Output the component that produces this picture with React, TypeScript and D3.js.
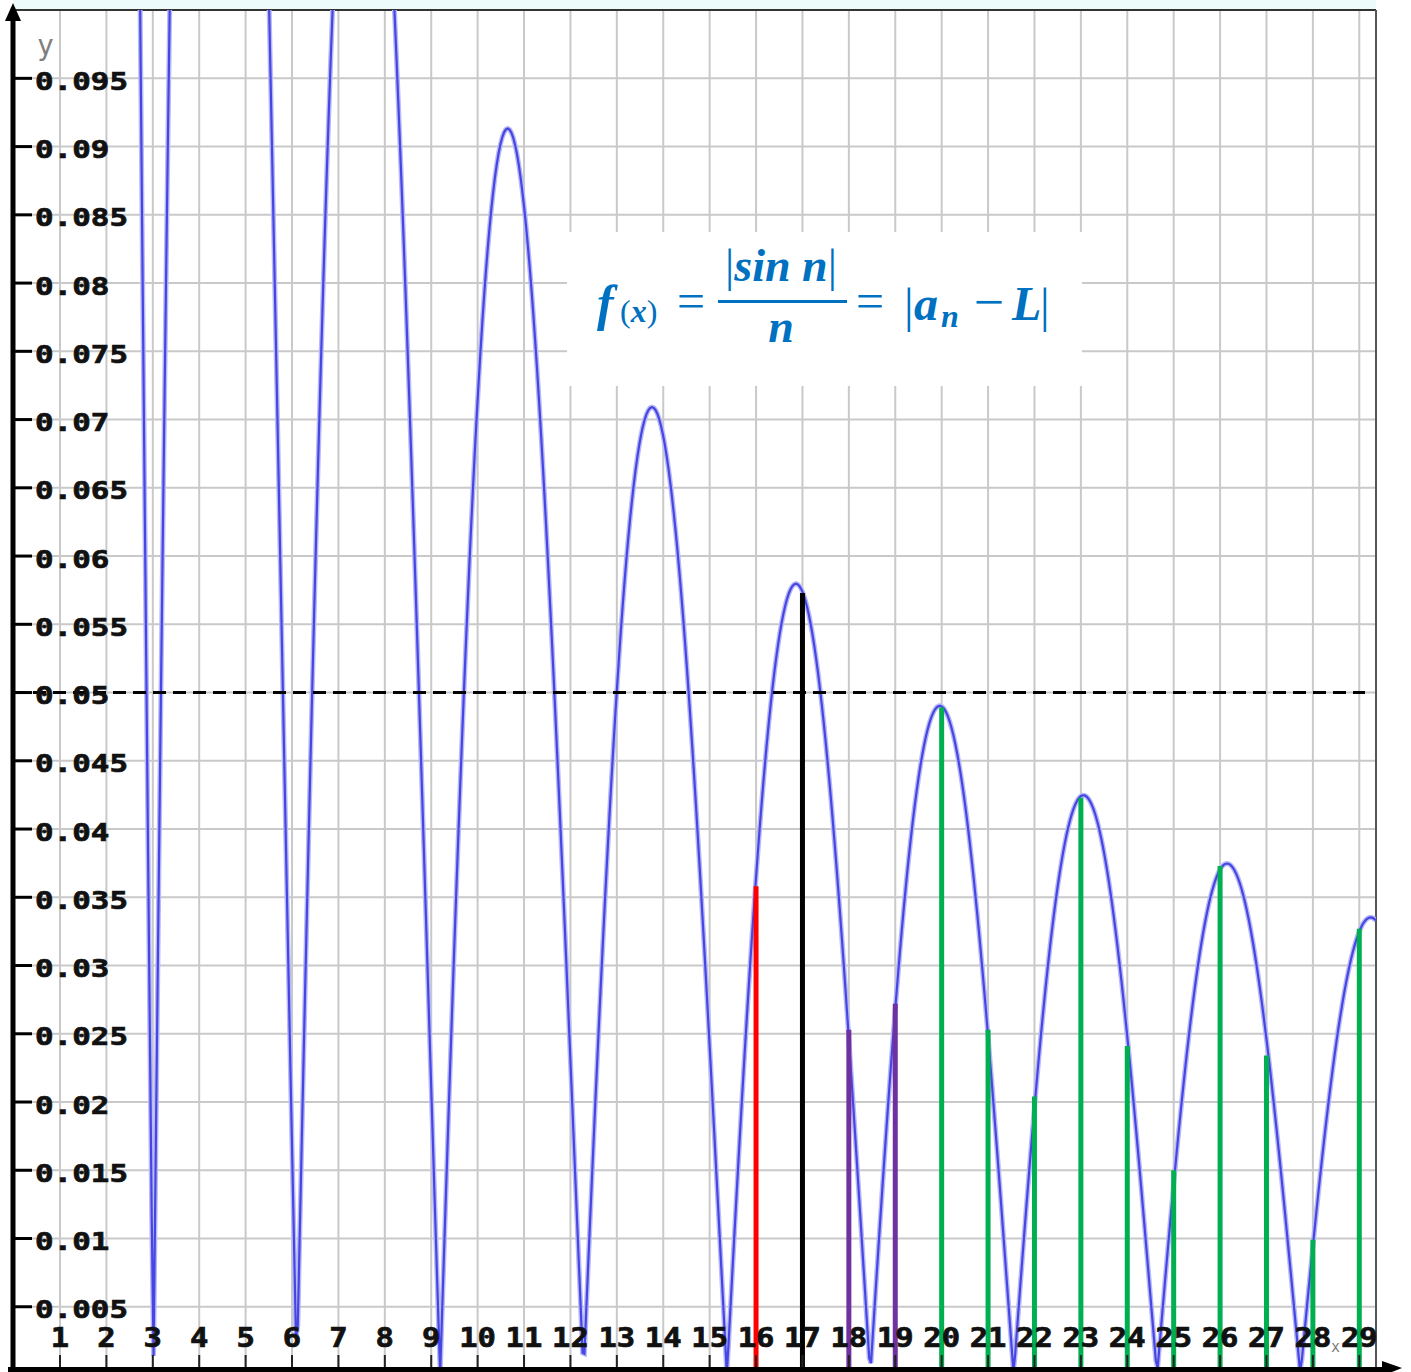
import React, { useEffect, useRef } from 'react';
import * as d3 from 'd3';

// tick values
const xTicks = [1, 2, 3, 4, 5, 6, 7, 8, 9, 10, 11, 12, 13, 14, 15, 16, 17, 18, 19, 20, 21, 22, 23, 24, 25, 26, 27, 28, 29];
const yTicks = [0.005, 0.01, 0.015, 0.02, 0.025, 0.03, 0.035, 0.04, 0.045, 0.05, 0.055, 0.06, 0.065, 0.07, 0.075, 0.08, 0.085, 0.09, 0.095];
const yTickLabels = ['0.005', '0.01', '0.015', '0.02', '0.025', '0.03', '0.035', '0.04', '0.045', '0.05', '0.055', '0.06', '0.065', '0.07', '0.075', '0.08', '0.085', '0.09', '0.095'];

// epsilon band
const epsilon = 0.05;

// vertical stems |a_n - L| at integer n
const stemN = [16, 17, 18, 19, 20, 21, 22, 23, 24, 25, 26, 27, 28, 29];
const stemValue = [0.0358, 0.0573, 0.0253, 0.0272, 0.0489, 0.0253, 0.0204, 0.0423, 0.0241, 0.015, 0.0373, 0.0234, 0.0099, 0.0327];
const stemGroup = ['before', 'N', 'between', 'between', 'after', 'after', 'after', 'after', 'after', 'after', 'after', 'after', 'after', 'after'];

const stemColors: Record<string, string> = {
    before: '#ff0000',
    N: '#000000',
    between: '#7030a0',
    after: '#00b050',
};

const W = 1411;
const H = 1372;

// the curve f(x) = |sin x| / x
const f = (x: number) => Math.abs(Math.sin(x)) / x;

export default function App() {
    const svgRef = useRef<SVGSVGElement | null>(null);

    useEffect(() => {
        const svg = d3.select(svgRef.current);
        svg.selectAll('*').remove();

        const left = 13;
        const right = 1376;
        const bottom = 1368;

        // the original plot labels its ticks on a slightly different scale than the curve
        const xTick = d3.scaleLinear().domain([0, 29.36]).range([13.6, right]);
        const xCurve = d3.scaleLinear().domain([0.066, 29.93]).range([left, right]);
        const y = d3.scaleLinear().domain([0, 0.1]).range([1375, 10.1]);
        const top = y(0.1);

        svg.append('rect').attr('width', W).attr('height', H).attr('fill', '#ffffff');
        svg.append('rect')
            .attr('x', left).attr('y', 0)
            .attr('width', right - left).attr('height', top)
            .attr('fill', '#eefbfb');

        // grid
        const grid = svg.append('g').attr('stroke', '#c9c9c9').attr('stroke-width', 2);
        grid.selectAll('line.v')
            .data(xTicks)
            .join('line')
            .attr('class', 'v')
            .attr('x1', (d) => xTick(d)).attr('x2', (d) => xTick(d))
            .attr('y1', top).attr('y2', bottom);
        grid.selectAll('line.h')
            .data(yTicks)
            .join('line')
            .attr('class', 'h')
            .attr('x1', left).attr('x2', right)
            .attr('y1', (d) => y(d)).attr('y2', (d) => y(d));

        // frame top / right
        svg.append('line')
            .attr('x1', left).attr('x2', right).attr('y1', top).attr('y2', top)
            .attr('stroke', '#333').attr('stroke-width', 2);
        svg.append('line')
            .attr('x1', right).attr('x2', right).attr('y1', top).attr('y2', bottom)
            .attr('stroke', '#555').attr('stroke-width', 2);

        // white formula box
        svg.append('rect')
            .attr('x', 567).attr('y', 232)
            .attr('width', 515).attr('height', 154)
            .attr('fill', '#ffffff');

        // curve
        svg.append('clipPath').attr('id', 'plot-clip')
            .append('rect')
            .attr('x', left).attr('y', top)
            .attr('width', right - left).attr('height', bottom - top);

        const [c0, c1] = xCurve.domain();
        const pts = d3.range(c0, c1, 0.04).concat([c1]);
        const line = d3.line<number>()
            .x((d) => xCurve(d))
            .y((d) => y(f(d)));

        const cg = svg.append('g').attr('clip-path', 'url(#plot-clip)');
        cg.append('path')
            .datum(pts)
            .attr('d', line)
            .attr('fill', 'none')
            .attr('stroke', '#b9b9f5')
            .attr('stroke-width', 5);
        cg.append('path')
            .datum(pts)
            .attr('d', line)
            .attr('fill', 'none')
            .attr('stroke', '#4646e4')
            .attr('stroke-width', 2.2);

        // epsilon dashed line
        svg.append('line')
            .attr('x1', left).attr('x2', 1365)
            .attr('y1', y(epsilon)).attr('y2', y(epsilon))
            .attr('stroke', '#000')
            .attr('stroke-width', 3)
            .attr('stroke-dasharray', '13 7');

        // stems
        svg.append('g')
            .selectAll('line')
            .data(stemN)
            .join('line')
            .attr('x1', (d) => xTick(d)).attr('x2', (d) => xTick(d))
            .attr('y1', bottom)
            .attr('y2', (_, i) => y(stemValue[i]))
            .attr('stroke', (_, i) => stemColors[stemGroup[i]])
            .attr('stroke-width', 5);

        // axis labels
        const mono = "'DejaVu Sans Mono', monospace";
        svg.append('text')
            .attr('x', 37).attr('y', 55)
            .attr('font-family', mono).attr('font-size', 28)
            .attr('fill', '#808080')
            .text('y');
        svg.append('text')
            .attr('x', 1331).attr('y', 1352)
            .attr('font-family', mono).attr('font-size', 15)
            .attr('fill', '#808080')
            .text('x');

        // y ticks + labels
        svg.append('g')
            .selectAll('line')
            .data(yTicks)
            .join('line')
            .attr('x1', left).attr('x2', 32)
            .attr('y1', (d) => y(d)).attr('y2', (d) => y(d))
            .attr('stroke', '#000').attr('stroke-width', 3);
        svg.append('g')
            .selectAll('text')
            .data(yTicks)
            .join('text')
            .attr('x', 35)
            .attr('y', (d) => y(d) + 11.5)
            .attr('font-family', mono).attr('font-weight', 'bold').attr('font-size', 25)
            .attr('fill', '#111')
            .attr('stroke', '#111').attr('stroke-width', 0.7)
            .attr('textLength', (_, i) => yTickLabels[i].length * 18.6)
            .attr('lengthAdjust', 'spacingAndGlyphs')
            .text((_, i) => yTickLabels[i]);

        // x ticks + labels
        svg.append('g')
            .selectAll('line')
            .data(xTicks)
            .join('line')
            .attr('x1', (d) => xTick(d)).attr('x2', (d) => xTick(d))
            .attr('y1', 1355).attr('y2', bottom)
            .attr('stroke', '#222').attr('stroke-width', 2);
        svg.append('g')
            .selectAll('text')
            .data(xTicks)
            .join('text')
            .attr('x', (d) => xTick(d) - String(d).length * 9.2)
            .attr('y', 1347)
            .attr('font-family', mono).attr('font-weight', 'bold').attr('font-size', 26)
            .attr('fill', '#111')
            .attr('stroke', '#111').attr('stroke-width', 0.7)
            .attr('textLength', (d) => String(d).length * 18.4)
            .attr('lengthAdjust', 'spacingAndGlyphs')
            .text((d) => String(d));

        // axes with arrows
        svg.append('line')
            .attr('x1', left).attr('x2', left).attr('y1', H).attr('y2', 16)
            .attr('stroke', '#000').attr('stroke-width', 5);
        svg.append('path')
            .attr('d', `M${left},3 L${left - 8},21 L${left + 8},21 Z`)
            .attr('fill', '#000');
        svg.append('line')
            .attr('x1', 8).attr('x2', 1390).attr('y1', 1369.5).attr('y2', 1369.5)
            .attr('stroke', '#000').attr('stroke-width', 5);
        svg.append('path')
            .attr('d', 'M1382,1361 L1402,1368 L1382,1376 Z')
            .attr('fill', '#000');

        // formula
        const blue = '#0070c0';
        const serif = "'Liberation Serif', 'DejaVu Serif', serif";
        const fm = svg.append('g').attr('fill', blue).attr('font-family', serif);

        fm.append('text')
            .attr('x', 597).attr('y', 320)
            .attr('font-size', 50).attr('font-style', 'italic').attr('font-weight', 'bold')
            .text('f');
        const sub = fm.append('text')
            .attr('x', 620).attr('y', 322)
            .attr('font-size', 32);
        sub.append('tspan').text('(');
        sub.append('tspan').attr('font-style', 'italic').attr('font-weight', 'bold').text('x');
        sub.append('tspan').text(')');

        fm.append('text')
            .attr('x', 691).attr('y', 318)
            .attr('text-anchor', 'middle')
            .attr('font-size', 50)
            .text('=');

        fm.append('line')
            .attr('x1', 718).attr('x2', 847).attr('y1', 301.5).attr('y2', 301.5)
            .attr('stroke', blue).attr('stroke-width', 3);

        const num = fm.append('text')
            .attr('x', 781).attr('y', 281)
            .attr('text-anchor', 'middle')
            .attr('font-size', 46);
        num.append('tspan').text('|');
        num.append('tspan').attr('font-style', 'italic').attr('font-weight', 'bold').text('sin n');
        num.append('tspan').text('|');

        fm.append('text')
            .attr('x', 781).attr('y', 342)
            .attr('text-anchor', 'middle')
            .attr('font-size', 46).attr('font-style', 'italic').attr('font-weight', 'bold')
            .text('n');

        fm.append('text')
            .attr('x', 870).attr('y', 318)
            .attr('text-anchor', 'middle')
            .attr('font-size', 50)
            .text('=');

        fm.append('text')
            .attr('x', 904).attr('y', 322)
            .attr('font-size', 48)
            .text('|');
        fm.append('text')
            .attr('x', 914).attr('y', 320)
            .attr('font-size', 48).attr('font-style', 'italic').attr('font-weight', 'bold')
            .text('a');
        fm.append('text')
            .attr('x', 941).attr('y', 327)
            .attr('font-size', 32).attr('font-style', 'italic').attr('font-weight', 'bold')
            .text('n');
        fm.append('text')
            .attr('x', 989).attr('y', 320)
            .attr('text-anchor', 'middle')
            .attr('font-size', 54)
            .text('−');
        fm.append('text')
            .attr('x', 1012).attr('y', 320)
            .attr('font-size', 48).attr('font-style', 'italic').attr('font-weight', 'bold')
            .text('L');
        fm.append('text')
            .attr('x', 1040).attr('y', 322)
            .attr('font-size', 48)
            .text('|');
    }, []);

    return (
        <svg
            ref={svgRef}
            width={W}
            height={H}
            style={{ position: 'absolute', left: 0, top: 0, display: 'block' }}
        />
    );
}
